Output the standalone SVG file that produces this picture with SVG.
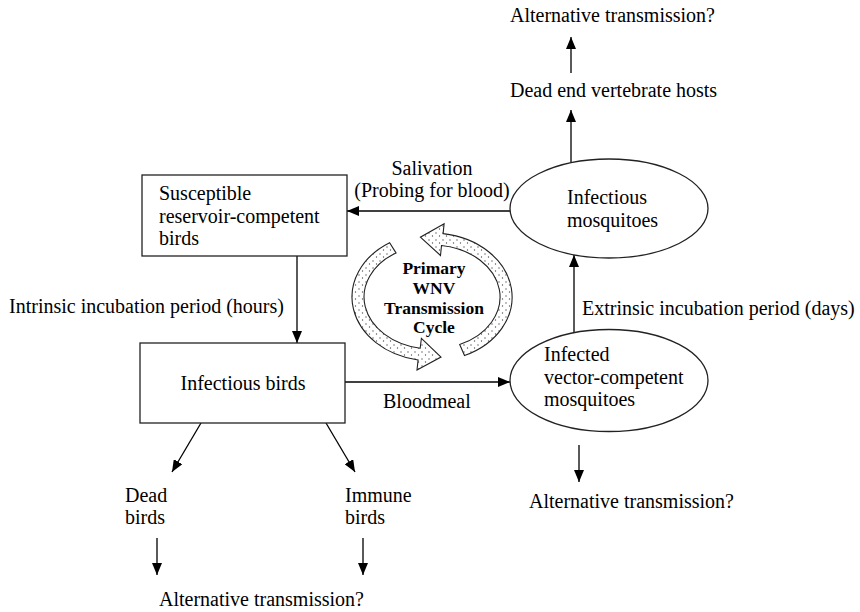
<svg xmlns="http://www.w3.org/2000/svg" width="860" height="612" viewBox="0 0 860 612">
<defs>
<marker id="ah" viewBox="0 0 12 10" refX="12" refY="5" markerWidth="12" markerHeight="10" markerUnits="userSpaceOnUse" orient="auto">
<path d="M0,0 L12,5 L0,10 z" fill="#000"/>
</marker>
<pattern id="dots" width="7" height="7" patternUnits="userSpaceOnUse">
<rect width="7" height="7" fill="#fff"/>
<circle cx="2" cy="2" r="0.7" fill="#555"/>
<circle cx="5.5" cy="5" r="0.7" fill="#555"/>
</pattern>
</defs>
<style>
text{font-family:"Liberation Serif","Times New Roman",serif;font-size:20px;fill:#000}
.b{font-weight:bold;font-size:17.5px}
.node{fill:#fff;stroke:#222;stroke-width:1.3}
.c{stroke:#000;stroke-width:1.3;fill:none;marker-end:url(#ah)}
.cyc{fill:url(#dots);stroke:#222;stroke-width:1.1}
</style>
<rect width="860" height="612" fill="#fff"/>

<g id="connectors">
<line class="c" x1="297" y1="256" x2="297" y2="343"/>
<line class="c" x1="510" y1="211" x2="347" y2="211"/>
<line class="c" x1="345" y1="382" x2="510" y2="382"/>
<line class="c" x1="574" y1="333" x2="574" y2="255"/>
<line class="c" x1="571" y1="162" x2="571" y2="110"/>
<line class="c" x1="571" y1="73" x2="571" y2="37"/>
<line class="c" x1="579" y1="445" x2="579" y2="482"/>
<line class="c" x1="201" y1="423" x2="172" y2="472"/>
<line class="c" x1="326" y1="423" x2="355" y2="472"/>
<line class="c" x1="157" y1="538" x2="157" y2="575"/>
<line class="c" x1="363" y1="538" x2="363" y2="575"/>
<text x="432" y="175" text-anchor="middle">Salivation</text>
<text x="432" y="197" text-anchor="middle">(Probing for blood)</text>
<text x="9" y="313">Intrinsic incubation period (hours)</text>
<text x="383" y="408">Bloodmeal</text>
<text x="582" y="315">Extrinsic incubation period (days)</text>
</g>

<g id="cycle">
<path class="cyc" d="M396.0,252.9 L389.6,242.7 A80,64 0 0 0 418.1,360.0 L417.0,369.9 L441.0,357.1 L421.4,338.3 L420.2,348.2 A68,52 0 0 1 396.0,252.9 Z"/>
<path class="cyc" d="M459.7,344.5 L464.5,355.5 A80,64 0 0 0 443.1,233.6 L444.1,223.7 L420.4,237.2 L440.5,255.5 L441.5,245.5 A68,52 0 0 1 459.7,344.5 Z"/>
<text class="b" x="434" y="274" text-anchor="middle">Primary</text>
<text class="b" x="434" y="294" text-anchor="middle">WNV</text>
<text class="b" x="434" y="314" text-anchor="middle">Transmission</text>
<text class="b" x="434" y="333" text-anchor="middle">Cycle</text>
</g>

<g id="susceptible-birds">
<rect class="node" x="142" y="175" width="205" height="81"/>
<text x="159" y="200">Susceptible</text>
<text x="159" y="222.5">reservoir-competent</text>
<text x="159" y="245">birds</text>
</g>

<g id="infectious-birds">
<rect class="node" x="140" y="343" width="205" height="80"/>
<text x="243" y="390" text-anchor="middle">Infectious birds</text>
</g>

<g id="infectious-mosquitoes">
<ellipse class="node" cx="609" cy="208.5" rx="99" ry="49.5"/>
<text x="567" y="204">Infectious</text>
<text x="567" y="227">mosquitoes</text>
</g>

<g id="infected-mosquitoes">
<ellipse class="node" cx="609" cy="380.5" rx="99" ry="51"/>
<text x="544" y="361">Infected</text>
<text x="544" y="383.5">vector-competent</text>
<text x="544" y="406">mosquitoes</text>
</g>

<g id="dead-end-hosts">
<text x="510" y="97">Dead end vertebrate hosts</text>
</g>
<g id="alt-top">
<text x="510" y="22">Alternative transmission?</text>
</g>
<g id="alt-mosq">
<text x="529" y="508">Alternative transmission?</text>
</g>
<g id="dead-birds">
<text x="125" y="502">Dead</text>
<text x="125" y="524">birds</text>
</g>
<g id="immune-birds">
<text x="345" y="502">Immune</text>
<text x="345" y="524">birds</text>
</g>
<g id="alt-birds">
<text x="159" y="606">Alternative transmission?</text>
</g>
</svg>
